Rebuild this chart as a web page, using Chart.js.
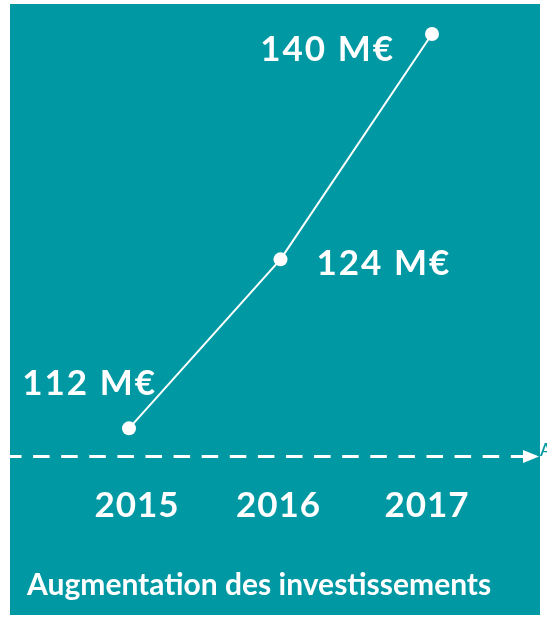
<!DOCTYPE html>
<html><head><meta charset="utf-8">
<script src="https://cdn.jsdelivr.net/npm/chart.js@4/dist/chart.umd.min.js"></script>
<style>html,body{margin:0;padding:0;background:#fff}canvas{display:block}</style>
</head><body>
<canvas id="c" width="547" height="620"></canvas>
<script>
// ---- data ----
const years = ['2015', '2016', '2017'];
const investments = [112, 124, 140];
const valueLabels = ['112 M€', '124 M€', '140 M€'];
const titleText = 'Augmentation des investissements';
const yMin = 110;
const yMax = 140;

// ---- styles ----
const TEAL = '#0099a3';
const FONT = 'Lato, "Open Sans", sans-serif';
const valueLabelStyle = [
  { dx: 28, dy: -33, align: 'right' },
  { dx: 36, dy: 16, align: 'left' },
  { dx: -37, dy: 27, align: 'right' }
];
const yearOffsets = [8, -2, -5];

const decor = {
  id: 'decor',
  beforeDraw(chart) {
    const ctx = chart.ctx;
    ctx.save();
    ctx.fillStyle = '#ffffff';
    ctx.fillRect(0, 0, chart.width, chart.height);
    ctx.fillStyle = TEAL;
    ctx.fillRect(10, 4, 530, 611);
    ctx.restore();
  },
  beforeDatasetsDraw(chart) {
    const ctx = chart.ctx;
    const yb = chart.scales.y.getPixelForValue(yMin);
    ctx.save();
    ctx.strokeStyle = '#ffffff';
    ctx.lineWidth = 3;
    ctx.setLineDash([16.5, 11.6]);
    ctx.lineDashOffset = 5;
    ctx.beginPath();
    ctx.moveTo(10, yb);
    ctx.lineTo(526, yb);
    ctx.stroke();
    ctx.setLineDash([]);
    ctx.fillStyle = '#ffffff';
    ctx.beginPath();
    ctx.moveTo(523, yb - 6.5);
    ctx.lineTo(539, yb);
    ctx.lineTo(523, yb + 6.5);
    ctx.closePath();
    ctx.fill();
    // cut-off glyph at right edge
    ctx.fillStyle = TEAL;
    ctx.font = '600 17px ' + FONT;
    ctx.textAlign = 'left';
    ctx.textBaseline = 'alphabetic';
    ctx.fillText('A', 540, yb - 1);
    ctx.restore();
  },
  afterDraw(chart) {
    const ctx = chart.ctx;
    const xs = chart.scales.x, ys = chart.scales.y;
    ctx.save();
    ctx.fillStyle = '#ffffff';
    ctx.textBaseline = 'alphabetic';
    // value labels
    ctx.font = '700 35px ' + FONT;
    ctx.letterSpacing = '2px';
    investments.forEach((v, i) => {
      const px = xs.getPixelForValue(i), py = ys.getPixelForValue(v);
      const s = valueLabelStyle[i];
      ctx.textAlign = s.align;
      ctx.fillText(valueLabels[i], px + s.dx, py + s.dy);
    });
    // year labels
    const yb = ys.getPixelForValue(yMin);
    ctx.font = '700 35px ' + FONT;
    ctx.letterSpacing = '1px';
    ctx.textAlign = 'center';
    years.forEach((y, i) => {
      ctx.fillText(y, xs.getPixelForValue(i) + yearOffsets[i], yb + 60.5);
    });
    // title
    ctx.font = '700 30px ' + FONT;
    ctx.letterSpacing = '0px';
    ctx.textAlign = 'left';
    ctx.fillText(titleText, 27, 595);
    ctx.restore();
  }
};

new Chart(document.getElementById('c'), {
  type: 'line',
  data: {
    labels: years,
    datasets: [{
      data: investments,
      borderColor: '#ffffff',
      borderWidth: 2,
      pointRadius: 7,
      pointBackgroundColor: '#ffffff',
      pointBorderWidth: 0,
      tension: 0,
      clip: false
    }]
  },
  options: {
    responsive: false,
    animation: false,
    layout: { padding: { left: 129, right: 115, top: 34, bottom: 163.5 } },
    plugins: { legend: { display: false }, tooltip: { enabled: false }, title: { display: false } },
    scales: {
      x: { type: 'category', display: false, offset: false },
      y: { display: false, min: yMin, max: yMax }
    }
  },
  plugins: [decor]
});
</script>
</body></html>
